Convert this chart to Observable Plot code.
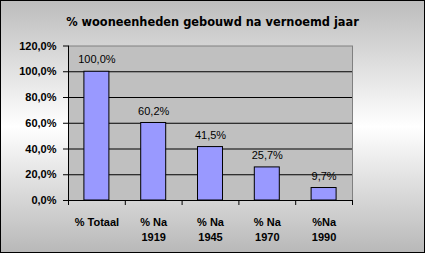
<!DOCTYPE html>
<html><head><meta charset="utf-8">
<script src="https://cdn.jsdelivr.net/npm/d3@7"></script>
<script src="https://cdn.jsdelivr.net/npm/@observablehq/plot@0.6"></script>
<style>
body{margin:0;}
#wrap{position:relative;width:425px;height:253px;background:linear-gradient(to bottom,#bcbcbc 0%,#ffffff 50%,#b8b8b8 100%);overflow:hidden;}
#title{position:absolute;left:0;top:15px;width:425px;text-align:center;font:bold 11.4px "DejaVu Sans",sans-serif;color:#000;}
#border{position:absolute;left:0;top:0;width:425px;height:253px;box-sizing:border-box;border:1px solid #000;pointer-events:none;}
svg{position:absolute;left:0;top:0;}
</style></head>
<body><div id="wrap"><div id="title">% wooneenheden gebouwd na vernoemd jaar</div><div id="border"></div></div>
<script>
const categories = ["% Totaal", "% Na\n1919", "% Na\n1945", "% Na\n1970", "%Na\n1990"];
const values = [1.0, 0.602, 0.415, 0.257, 0.097];
const yTicks = [0, 0.2, 0.4, 0.6, 0.8, 1.0, 1.2];
const title = "% wooneenheden gebouwd na vernoemd jaar";

const data = categories.map((c, i) => ({cat: c, value: values[i]}));
const fmt = d => (d * 100).toFixed(1).replace(".", ",") + "%";

const W = 425, H = 253, ml = 68, mr = 73, mt = 45.5, mb = 53;
const step = (W - ml - mr) / categories.length;
const last = categories[categories.length - 1];

const chart = Plot.plot({
  width: W, height: H,
  marginLeft: ml, marginRight: mr, marginTop: mt, marginBottom: mb,
  style: {background: "transparent", fontFamily: "'Liberation Sans', Arial, sans-serif", fontSize: "11px", color: "#000"},
  x: {domain: categories, paddingInner: 0.56, paddingOuter: 0.28, round: false, label: null},
  y: {domain: [0, 1.2], label: null},
  marks: [
    Plot.frame({fill: "#c0c0c0", stroke: "#808080"}),
    Plot.ruleY(yTicks.filter(d => d > 0 && d < 1.2), {stroke: "#000"}),
    Plot.barY(data, {x: "cat", y: "value", fill: "#9999ff", stroke: "#000", strokeWidth: 1}),
    Plot.text(data, {x: "cat", y: "value", text: d => fmt(d.value), dy: -12, fill: "#000", fontSize: 11}),
    Plot.ruleY([0], {stroke: "#000"}),
    Plot.ruleX([categories[0]], {x: d => d, dx: -step / 2, y1: 1.2, y2: 0, insetBottom: -5, stroke: "#000"}),
    Plot.ruleX(categories.slice(1), {x: d => d, dx: -step / 2, y1: 0, y2: 0, insetBottom: -5, stroke: "#000"}),
    Plot.ruleX([last], {x: d => d, dx: step / 2, y1: 0, y2: 0, insetBottom: -5, stroke: "#000"}),
    Plot.axisY({ticks: yTicks, tickFormat: fmt, tickSize: 5, tickPadding: 7, fontWeight: "bold", fontSize: 11, stroke: "#000"}),
    Plot.axisX({tickSize: 0, tickPadding: 15, fontWeight: "bold", fontSize: 11, lineHeight: 1.36, lineAnchor: "top"})
  ]
});
document.getElementById("wrap").insertBefore(chart, document.getElementById("border"));
</script>
</body></html>
